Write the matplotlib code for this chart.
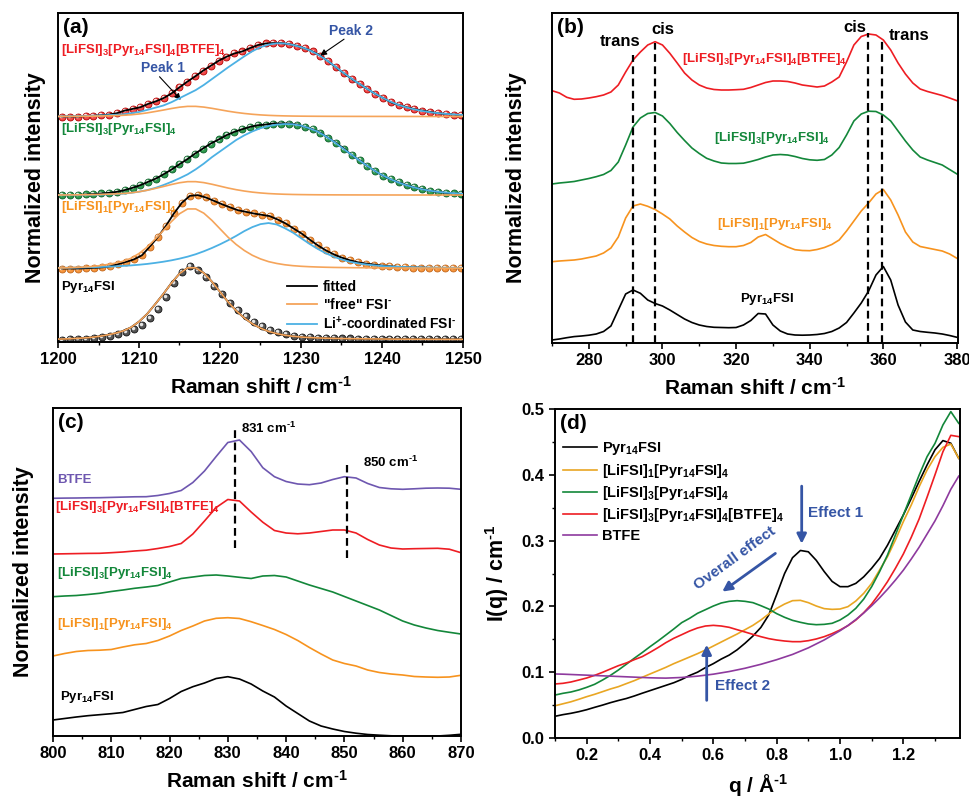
import numpy as np
import matplotlib
matplotlib.use('Agg')
import matplotlib.pyplot as plt
from matplotlib.lines import Line2D
from matplotlib.ticker import MultipleLocator, NullLocator
from matplotlib.transforms import offset_copy

# ---------------- (a) FSI stretching band, 1200-1250 cm-1 ----------------
fit_x = np.arange(1200, 1251)

# "free" FSI- component, normalised shape
free_profile = [0.01, 0.012, 0.018, 0.024, 0.032, 0.046, 0.065, 0.088, 0.12, 0.17,
                0.25, 0.355, 0.49, 0.63, 0.78, 0.91, 0.99, 0.99, 0.92, 0.8,
                0.66, 0.52, 0.4, 0.3, 0.22, 0.16, 0.115, 0.085, 0.063, 0.048,
                0.038, 0.031, 0.026, 0.022, 0.019, 0.017, 0.015, 0.014, 0.013, 0.012,
                0.011, 0.01, 0.009, 0.009, 0.008, 0.008, 0.007, 0.007, 0.006, 0.006,
                0.006]
# amplitude of free component: Pyr14FSI, Li1, Li3, Li3+BTFE
free_amp = [0.99, 0.82, 0.19, 0.14]

# Li+-coordinated FSI- component
coord_li1 = [0.01, 0.011, 0.013, 0.015, 0.018, 0.021, 0.025, 0.03, 0.036, 0.043,
             0.052, 0.063, 0.077, 0.093, 0.112, 0.135, 0.162, 0.195, 0.235, 0.28,
             0.33, 0.385, 0.445, 0.51, 0.565, 0.605, 0.62, 0.6, 0.55, 0.49,
             0.415, 0.34, 0.272, 0.212, 0.163, 0.124, 0.094, 0.072, 0.056, 0.044,
             0.035, 0.029, 0.024, 0.02, 0.017, 0.015, 0.013, 0.012, 0.011, 0.01,
             0.01]
coord_li3 = [0.0, 0.0, 0.001, 0.002, 0.004, 0.006, 0.009, 0.013, 0.02, 0.032,
             0.048, 0.07, 0.1, 0.14, 0.185, 0.235, 0.29, 0.36, 0.44, 0.53,
             0.61, 0.69, 0.77, 0.835, 0.89, 0.935, 0.965, 0.985, 0.993, 0.99,
             0.97, 0.935, 0.89, 0.825, 0.75, 0.668, 0.583, 0.502, 0.422, 0.347,
             0.28, 0.225, 0.178, 0.138, 0.106, 0.08, 0.06, 0.045, 0.034, 0.025,
             0.018]
coord_mix = [0.002, 0.003, 0.005, 0.007, 0.01, 0.014, 0.018, 0.023, 0.03, 0.045,
             0.062, 0.09, 0.12, 0.15, 0.195, 0.25, 0.305, 0.36, 0.43, 0.51,
             0.59, 0.67, 0.745, 0.82, 0.89, 0.945, 0.98, 0.997, 0.995, 0.975,
             0.945, 0.905, 0.85, 0.78, 0.70, 0.615, 0.535, 0.46, 0.39, 0.32,
             0.26, 0.205, 0.16, 0.125, 0.097, 0.075, 0.058, 0.045, 0.035, 0.027,
             0.02]

# measured points (normalised)
pts_pyr = [0, 0.005, 0.01, 0.014, 0.023, 0.037, 0.055, 0.083, 0.11, 0.147,
           0.207, 0.295, 0.415, 0.585, 0.77, 0.93, 1.0, 0.954, 0.853, 0.737,
           0.622, 0.507, 0.41, 0.323, 0.249, 0.194, 0.138, 0.101, 0.074, 0.055,
           0.041, 0.032, 0.023, 0.023, 0.02, 0.018, 0.018, 0.016, 0.014, 0.014,
           0.012, 0.012, 0.01, 0.01, 0.009, 0.009, 0.008, 0.008, 0.007, 0.007,
           0.006]
pts_li1 = [0, 0, 0, 0.005, 0.01, 0.016, 0.03, 0.06, 0.09, 0.125,
           0.18, 0.3, 0.43, 0.58, 0.75, 0.895, 0.99, 1.0, 0.968, 0.923,
           0.877, 0.835, 0.795, 0.773, 0.75, 0.732, 0.714, 0.668, 0.614, 0.545,
           0.477, 0.395, 0.318, 0.25, 0.195, 0.15, 0.114, 0.086, 0.068, 0.055,
           0.041, 0.032, 0.023, 0.018, 0.014, 0.014, 0.009, 0.009, 0.009, 0.005,
           0.005]
pts_li3 = [0, 0, 0, 0.009, 0.014, 0.023, 0.032, 0.046, 0.07, 0.102,
           0.139, 0.186, 0.232, 0.293, 0.358, 0.432, 0.502, 0.581, 0.651, 0.721,
           0.777, 0.837, 0.883, 0.92, 0.953, 0.976, 0.986, 1.0, 1.0, 1.0,
           0.986, 0.953, 0.92, 0.869, 0.799, 0.729, 0.651, 0.558, 0.488, 0.405,
           0.335, 0.27, 0.219, 0.177, 0.139, 0.107, 0.084, 0.06, 0.046, 0.032,
           0.023, 0.014]
pts_mix = [0.0, 0.0, 0.0, 0.005, 0.01, 0.018, 0.027, 0.045, 0.081, 0.104,
           0.127, 0.172, 0.208, 0.253, 0.316, 0.398, 0.475, 0.547, 0.624, 0.692,
           0.76, 0.814, 0.859, 0.886, 0.932, 0.973, 0.995, 1.0, 1.0, 0.986,
           0.963, 0.927, 0.886, 0.828, 0.75, 0.669, 0.588, 0.511, 0.443, 0.375,
           0.308, 0.253, 0.194, 0.158, 0.127, 0.1, 0.081, 0.063, 0.045, 0.036,
           0.027, 0.018]

# ---------------- (b) 270-380 cm-1 ----------------
b_x = np.arange(270, 381, 2)
b_pyr = [3, 4, 5.3, 6.4, 7, 7.8, 9, 11.5, 17, 33,
         49, 53, 49.7, 43, 39.5, 37, 33, 28.5, 24, 20.5,
         18, 16.5, 15.7, 15.5, 15.3, 15.5, 18, 22.5, 29.5, 29,
         18, 12, 9, 8, 7.8, 8, 8.5, 9.5, 11.5, 15,
         20.5, 30, 40, 52, 68, 76.5, 63, 38, 21, 13,
         11.5, 10.7, 10, 9, 7.5, 5.7]
b_li1 = [6.3, 7, 7.5, 8, 9, 10.5, 12, 15, 20, 31,
         50, 62, 64, 61.7, 58.5, 54, 49, 42, 36, 30.5,
         26.5, 24, 22.5, 21.7, 21.3, 21.3, 22.5, 25.5, 31, 33.5,
         29, 24.5, 21, 18.3, 17.5, 17.3, 18.5, 20.5, 23.5, 28,
         37, 47, 57, 65, 74, 78.5, 68, 53, 36, 26,
         21.5, 20, 18.5, 17, 14, 9.7]
b_li3 = [9, 10, 10.7, 11.5, 13, 14.5, 16.3, 18.5, 22.5, 31,
         48, 66, 75, 79.5, 80.5, 77, 69.5, 60.5, 52.5, 45,
         39.5, 34.7, 32, 30, 29.5, 29.5, 29.8, 31.5, 33.5, 36,
         38, 38.5, 38, 36.5, 34.5, 33.2, 32.7, 33.5, 38, 45.5,
         58, 72, 79, 81.8, 81.5, 78, 72, 62, 52, 43,
         36, 33, 30.5, 28, 23.5, 19]
b_mix = [12.3, 10, 5.7, 3.7, 4, 5, 6.3, 8, 11, 18,
         31, 43, 51, 58, 61.3, 58, 49.7, 40, 30, 23,
         18, 15, 13.5, 13, 13, 13.3, 13.7, 15.5, 18, 20.5,
         22, 22, 21.5, 20, 18, 17, 16, 17, 21, 26,
         41, 58, 66.5, 69, 68, 63, 53, 40, 29, 20,
         14, 11.5, 9.5, 7.5, 5, 2.3]
b_lines = [292, 298, 355.7, 359.7]

# ---------------- (c) 800-870 cm-1 ----------------
c_x = np.arange(800, 871, 2)
c_pyr = [16, 17.5, 19, 20.3, 21.3, 22.3, 23.5, 26.5, 29.5, 31.5,
         37.5, 44.5, 49.3, 53, 57.5, 59.3, 57, 52, 45, 39,
         30, 22.5, 15, 10, 7, 4.5, 2.8, 1.5, 0.8, 0.2,
         0, 0, 0, 0, 0.7, 1.7]
c_li1 = [30, 32.5, 34.5, 35.5, 35.8, 36.5, 39, 41.2, 42.5, 45.5,
         50, 55.5, 60, 65, 67.7, 68.3, 67.5, 64.3, 60.5, 56.5,
         51.5, 45.5, 38.5, 32, 26, 22.5, 20, 16, 13.5, 12,
         11, 9.5, 9, 8.7, 9, 10.7]
c_li3 = [39.3, 40, 40.5, 41.5, 42.7, 44.5, 46, 47.7, 49, 50.5,
         54, 57.5, 59, 60.5, 61, 60, 58.7, 57.5, 60, 60.5,
         59, 55, 51, 47.5, 44, 39.5, 35, 30.5, 26, 20.5,
         15, 11, 8, 5.5, 3.7, 2]
c_mix = [12, 12.2, 12.4, 12.6, 12.7, 13.3, 14, 15, 15.8, 17.5,
         19.5, 22.5, 32, 45, 58.5, 66.5, 65, 54, 43.8, 35.5,
         33, 32.2, 33, 34.5, 36, 36, 33, 26.5, 21, 18,
         17, 17.3, 17.5, 17.7, 16.8, 13.3]
c_btfe = [7.7, 7.9, 8, 8.2, 8.3, 8.6, 8.9, 9.2, 9.3, 10.5,
          12.5, 15.5, 23.5, 35, 49.5, 63.5, 66, 54.5, 38.3, 29.3,
          24.5, 22, 21.3, 23, 26.5, 29.3, 28, 22.5, 18.5, 17.2,
          16.7, 17.2, 17.8, 18, 17.8, 16.7]

# ---------------- (d) SAXS ----------------
q = np.linspace(0.1, 1.375, 52)
d_pyr = [0.033, 0.0355, 0.0375, 0.04, 0.043, 0.0466, 0.05, 0.0537, 0.057, 0.06,
         0.0638, 0.068, 0.072, 0.076, 0.08, 0.084, 0.089, 0.095, 0.1, 0.107,
         0.113, 0.12, 0.126, 0.134, 0.144, 0.155, 0.168, 0.187, 0.218, 0.25,
         0.274, 0.285, 0.283, 0.27, 0.253, 0.238, 0.23, 0.23, 0.235, 0.245,
         0.258, 0.273, 0.293, 0.316, 0.339, 0.364, 0.39, 0.415, 0.438, 0.452,
         0.448, 0.425]
d_li1 = [0.049, 0.052, 0.055, 0.0588, 0.0628, 0.0664, 0.0704, 0.0745, 0.078, 0.0826,
         0.0871, 0.0922, 0.0973, 0.1023, 0.1074, 0.113, 0.118, 0.1231, 0.1282, 0.1337,
         0.1398, 0.1459, 0.152, 0.158, 0.1646, 0.1712, 0.1793, 0.1885, 0.197, 0.2036,
         0.2087, 0.2092, 0.2057, 0.2006, 0.1966, 0.1955, 0.196, 0.1996, 0.2082, 0.2199,
         0.235, 0.2553, 0.2756, 0.3009, 0.3288, 0.3541, 0.382, 0.4073, 0.4276, 0.4417,
         0.4468, 0.425]
d_li3 = [0.0653, 0.0679, 0.0699, 0.073, 0.077, 0.0816, 0.0881, 0.0952, 0.1033, 0.112,
         0.1211, 0.1297, 0.1388, 0.1474, 0.1565, 0.1657, 0.1753, 0.1819, 0.1895, 0.195,
         0.2006, 0.2052, 0.2077, 0.2087, 0.2077, 0.2057, 0.2011, 0.196, 0.189, 0.1834,
         0.1788, 0.1758, 0.1733, 0.1722, 0.1727, 0.1743, 0.1793, 0.1869, 0.1971, 0.2112,
         0.23, 0.2528, 0.2781, 0.3085, 0.3389, 0.3693, 0.3997, 0.4276, 0.4478, 0.4757,
         0.496, 0.4782]
d_mix = [0.0821, 0.0831, 0.0851, 0.0881, 0.0912, 0.0952, 0.0998, 0.1049, 0.1099, 0.114,
         0.119, 0.1236, 0.1302, 0.1373, 0.1449, 0.1515, 0.157, 0.1626, 0.1672, 0.1702,
         0.1712, 0.1702, 0.1682, 0.1646, 0.1611, 0.1575, 0.154, 0.151, 0.1489, 0.1474,
         0.1464, 0.1464, 0.1479, 0.1505, 0.154, 0.1586, 0.1641, 0.1707, 0.1793, 0.1905,
         0.2036, 0.2199, 0.2376, 0.2579, 0.2796, 0.305, 0.333, 0.366, 0.4, 0.435,
         0.46, 0.458]
d_btfe = [0.0973, 0.097, 0.0965, 0.096, 0.0955, 0.095, 0.0945, 0.094, 0.0935, 0.093,
          0.0925, 0.092, 0.0915, 0.0912, 0.091, 0.0915, 0.092, 0.093, 0.094, 0.0955,
          0.097, 0.099, 0.101, 0.1035, 0.106, 0.109, 0.112, 0.1155, 0.119, 0.123,
          0.127, 0.132, 0.137, 0.143, 0.149, 0.156, 0.163, 0.171, 0.18, 0.19,
          0.201, 0.213, 0.226, 0.24, 0.255, 0.272, 0.29, 0.31, 0.33, 0.353,
          0.378, 0.398]

HY = '\u2010'  # short hyphen used in the superscripts
LBL_PYR = 'Pyr$_{14}$FSI'
LBL_LI1 = '[LiFSI]$_1$[Pyr$_{14}$FSI]$_4$'
LBL_LI3 = '[LiFSI]$_3$[Pyr$_{14}$FSI]$_4$'
LBL_MIX = '[LiFSI]$_3$[Pyr$_{14}$FSI]$_4$[BTFE]$_4$'
LBL_BTFE = 'BTFE'

RED = '#EE1D23'
GREEN = '#13873A'
ORANGE = '#F7931E'
FIT_ORANGE = '#F5A45A'
FIT_BLUE = '#4CB1E4'
PURPLE_C = '#6E57B0'
PURPLE_D = '#8E3A9E'
YELLOW = '#E9A623'
NOTE_BLUE = '#3555A5'
XLABEL = 'Raman shift / cm$^{' + HY + '1}$'

plt.rcParams.update({
    'font.family': 'Liberation Sans',
    'font.weight': 'bold',
    'axes.labelweight': 'bold',
    'axes.linewidth': 1.4,
    'mathtext.fontset': 'custom',
    'mathtext.rm': 'Liberation Sans:bold',
    'mathtext.bf': 'Liberation Sans:bold',
    'mathtext.it': 'Liberation Sans:bold:italic',
    'mathtext.default': 'rm',
    'xtick.direction': 'out',
    'ytick.direction': 'out',
    'xtick.major.size': 4,
    'ytick.major.size': 4,
    'xtick.minor.size': 2.5,
    'ytick.minor.size': 2.5,
    'xtick.major.width': 1.2,
    'ytick.major.width': 1.2,
    'xtick.minor.width': 1.0,
    'ytick.minor.width': 1.0,
    'xtick.labelsize': 12,
    'ytick.labelsize': 12,
})


def spectrum_axes(ax, xlim, ylim, major, minor, ylabelpad):
    ax.set_xlim(*xlim)
    ax.set_ylim(*ylim)
    ax.xaxis.set_major_locator(MultipleLocator(major))
    ax.xaxis.set_minor_locator(MultipleLocator(minor))
    ax.yaxis.set_major_locator(NullLocator())
    ax.tick_params(top=False, right=False)
    ax.set_xlabel(XLABEL, fontsize=15, labelpad=6)
    ax.set_ylabel('Normalized intensity', fontsize=15.5, labelpad=ylabelpad)


def panel_tag(ax, tag):
    ax.text(0.012, 0.985, tag, transform=ax.transAxes, fontsize=15,
            fontweight='bold', ha='left', va='top')


fig = plt.figure(figsize=(9.7, 8), dpi=100)

# ---------------- panel (a) ----------------
ax = fig.add_axes([0.0598, 0.5725, 0.4175, 0.41125])
offsets_a = [0.0, 0.97, 1.97, 3.04]
scales_a = [1.0, 1.0, 0.975, 1.0]
pts_all = [pts_pyr, pts_li1, pts_li3, pts_mix]
coord_all = [None, coord_li1, coord_li3, coord_mix]
face = ['#555555', '#F7943A', '#2E9B4E', '#F24A4A']
edge = ['#111111', '#C0651A', '#0B5E28', '#B00000']
free_prof = np.array(free_profile)
shine = offset_copy(ax.transData, fig=fig, x=-0.7, y=0.7, units='points')

for i in range(4):
    off, sc = offsets_a[i], scales_a[i]
    pts = np.array(pts_all[i])
    xm = np.linspace(1200.5, 1249.8, len(pts))
    ax.plot(xm, off + sc * pts, 'o', ms=5, mfc=face[i], mec=edge[i], mew=0.6, zorder=2)
    # small highlight so the dots look like little balls
    ax.plot(xm, off + sc * pts, 'o', ms=1.6, color='white', alpha=0.75,
            transform=shine, zorder=2.5)
    free = free_amp[i] * free_prof
    if coord_all[i] is None:
        ax.plot(fit_x, off + sc * free, color='k', lw=1.3, zorder=3)
    else:
        ax.plot(xm, off + sc * pts, color='k', lw=1.3, zorder=3)
        ax.plot(fit_x, off + sc * np.array(coord_all[i]), color=FIT_BLUE, lw=1.3, zorder=4)
    ax.plot(fit_x, off + sc * free, color=FIT_ORANGE, lw=1.2, zorder=5)

spectrum_axes(ax, (1200, 1250), (-0.03, 4.45), 10, 5, 9)
panel_tag(ax, '(a)')

ax.text(1200.4, 3.94, LBL_MIX, color=RED, fontsize=9.5, va='center')
ax.text(1200.4, 2.87, LBL_LI3, color=GREEN, fontsize=9.5, va='center')
ax.text(1200.4, 1.81, LBL_LI1, color=ORANGE, fontsize=9.5, va='center')
ax.text(1200.4, 0.72, LBL_PYR, color='k', fontsize=9.5, va='center')

ax.text(1236.2, 4.2, 'Peak 2', color=NOTE_BLUE, fontsize=10, ha='center', va='center')
ax.annotate('', xy=(1232.1, 3.85), xytext=(1235.6, 4.115),
            arrowprops=dict(arrowstyle='-|>', color='k', lw=0.8, mutation_scale=9))
ax.text(1213.0, 3.7, 'Peak 1', color=NOTE_BLUE, fontsize=10, ha='center', va='center')
ax.annotate('', xy=(1215.4, 3.24), xytext=(1212.3, 3.61),
            arrowprops=dict(arrowstyle='-|>', color='k', lw=0.8, mutation_scale=9))

handles = [Line2D([], [], color='k', lw=1.3),
           Line2D([], [], color=FIT_ORANGE, lw=1.3),
           Line2D([], [], color=FIT_BLUE, lw=1.3)]
ax.legend(handles, ['fitted', '"free" FSI$^{' + HY + '}$',
                    'Li$^{+}$-coordinated FSI$^{' + HY + '}$'],
          loc='lower left', bbox_to_anchor=(0.565, 0.03), frameon=False, fontsize=10,
          handlelength=2.2, handletextpad=0.4, labelspacing=0.2, borderpad=0,
          borderaxespad=0)

# ---------------- panel (b) ----------------
ax = fig.add_axes([0.5691, 0.57125, 0.4186, 0.4125])
offsets_b = [0, 75, 150, 240]
for vals, col, off in zip([b_pyr, b_li1, b_li3, b_mix], ['k', ORANGE, GREEN, RED], offsets_b):
    ax.plot(b_x, off + np.array(vals), color=col, lw=1.2)
tops_b = [288, 300, 310, 305]
for xv, top in zip(b_lines, tops_b):
    ax.plot([xv, xv], [0, top], color='k', lw=1.6, ls=(0, (3.5, 2)))
spectrum_axes(ax, (270, 380.3), (0, 330), 20, 10, 18)
panel_tag(ax, '(b)')
ax.text(288.4, 302, 'trans', fontsize=12, ha='center', va='center')
ax.text(300.1, 313, 'cis', fontsize=12, ha='center', va='center')
ax.text(352.2, 315, 'cis', fontsize=12, ha='center', va='center')
ax.text(367.1, 308, 'trans', fontsize=12, ha='center', va='center')
ax.text(327.8, 284, LBL_MIX, color=RED, fontsize=9.5, ha='center', va='center')
ax.text(329.7, 205, LBL_LI3, color=GREEN, fontsize=9.5, ha='center', va='center')
ax.text(330.5, 119, LBL_LI1, color=ORANGE, fontsize=9.5, ha='center', va='center')
ax.text(328.3, 44, LBL_PYR, color='k', fontsize=9.5, ha='center', va='center')

# ---------------- panel (c) ----------------
ax = fig.add_axes([0.0546, 0.08, 0.4206, 0.41])
offsets_c = [0, 50, 100, 170, 230]
for vals, col, off in zip([c_pyr, c_li1, c_li3, c_mix, c_btfe],
                          ['k', ORANGE, GREEN, RED, PURPLE_C], offsets_c):
    ax.plot(c_x, off + np.array(vals), color=col, lw=1.2)
ax.plot([831.3, 831.3], [188, 306], color='k', lw=1.6, ls=(0, (3.5, 2)))
ax.plot([850.4, 850.4], [178, 271], color='k', lw=1.6, ls=(0, (3.5, 2)))
spectrum_axes(ax, (800, 870), (0, 328), 10, 5, 14)
panel_tag(ax, '(c)')
ax.text(832.2, 308, '831 cm$^{' + HY + '1}$', fontsize=9.5, va='center')
ax.text(853.2, 274, '850 cm$^{' + HY + '1}$', fontsize=9.5, va='center')
ax.text(800.7, 256, LBL_BTFE, color=PURPLE_C, fontsize=9.5, va='center')
ax.text(800.3, 229, LBL_MIX, color=RED, fontsize=9.5, va='center')
ax.text(800.7, 163, LBL_LI3, color=GREEN, fontsize=9.5, va='center')
ax.text(800.7, 112, LBL_LI1, color=ORANGE, fontsize=9.5, va='center')
ax.text(801.2, 39, LBL_PYR, color='k', fontsize=9.5, va='center')

# ---------------- panel (d) ----------------
ax = fig.add_axes([0.5722, 0.0775, 0.4175, 0.41125])
series_d = [(d_pyr, 'k', LBL_PYR), (d_li1, YELLOW, LBL_LI1), (d_li3, GREEN, LBL_LI3),
            (d_mix, RED, LBL_MIX), (d_btfe, PURPLE_D, LBL_BTFE)]
for vals, col, lbl in series_d:
    ax.plot(q, vals, color=col, lw=1.2, label=lbl)
ax.set_xlim(0.1, 1.379)
ax.set_ylim(0, 0.5)
ax.xaxis.set_major_locator(MultipleLocator(0.2))
ax.xaxis.set_minor_locator(MultipleLocator(0.1))
ax.yaxis.set_major_locator(MultipleLocator(0.1))
ax.yaxis.set_minor_locator(MultipleLocator(0.05))
ax.xaxis.set_major_formatter(plt.FormatStrFormatter('%.1f'))
ax.yaxis.set_major_formatter(plt.FormatStrFormatter('%.1f'))
ax.tick_params(which='both', top=False, right=False)
ax.set_xlabel('q / Å$^{' + HY + '1}$', fontsize=15, labelpad=6)
ax.set_ylabel('I(q) / cm$^{' + HY + '1}$', fontsize=15.5, labelpad=8)
panel_tag(ax, '(d)')
ax.legend(loc='upper left', bbox_to_anchor=(0.02, 0.905), frameon=False, fontsize=10.5,
          handlelength=2.3, handletextpad=0.35, labelspacing=0.3, borderpad=0,
          borderaxespad=0)

arrow = dict(arrowstyle='-|>', color=NOTE_BLUE, lw=2, mutation_scale=14)
ax.annotate('', xy=(0.879, 0.291), xytext=(0.879, 0.387), arrowprops=arrow)
ax.text(0.899, 0.342, 'Effect 1', color=NOTE_BLUE, fontsize=11, va='center')
ax.annotate('', xy=(0.579, 0.146), xytext=(0.579, 0.053), arrowprops=arrow)
ax.text(0.605, 0.079, 'Effect 2', color=NOTE_BLUE, fontsize=11, va='center')
ax.annotate('', xy=(0.621, 0.22), xytext=(0.803, 0.283), arrowprops=arrow)
ax.text(0.668, 0.273, 'Overall effect', color=NOTE_BLUE, fontsize=11, rotation=36,
        ha='center', va='center', rotation_mode='anchor')

fig.savefig('out.png', dpi=100)
plt.close(fig)
